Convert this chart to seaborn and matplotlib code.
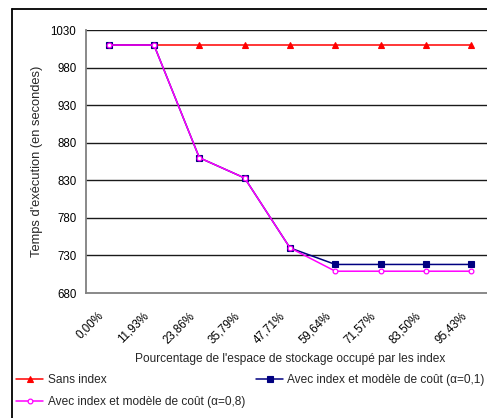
import numpy as np
import pandas as pd
import seaborn as sns
import matplotlib.pyplot as plt
import matplotlib.transforms as mtransforms
from matplotlib.lines import Line2D

# data
categories = ['0,00%', '11,93%', '23,86%', '35,79%', '47,71%',
              '59,64%', '71,57%', '83,50%', '95,43%']
sans_index = [1010, 1010, 1010, 1010, 1010, 1010, 1010, 1010, 1010]
cout_01 = [1010, 1010, 860, 833, 740, 718, 718, 718, 718]
cout_08 = [1010, 1010, 860, 833, 740, 709, 709, 709, 709]

yticks = [680, 730, 780, 830, 880, 930, 980, 1030]

FS = 8.6
TFS = 8.3

sns.set_style('white')
plt.rcParams['font.family'] = ['Liberation Sans', 'DejaVu Sans']
plt.rcParams['font.size'] = FS

fig = plt.figure(figsize=(4.87, 4.18), dpi=100)
ax = fig.add_axes([86/487, 1-293/418, 408/487, 263/418])

pos = np.arange(len(categories))
df = pd.DataFrame({'pos': pos, 'sans': sans_index, 'c01': cout_01, 'c08': cout_08})

sns.lineplot(data=df, x='pos', y='sans', ax=ax, color='#FF0000', marker='^',
             markersize=5, markeredgecolor='#FF0000', markeredgewidth=0.8,
             linewidth=1.1, label='Sans index', zorder=3)
sns.lineplot(data=df, x='pos', y='c01', ax=ax, color='#000080', marker='s',
             markersize=4.0, markeredgecolor='#000080', markeredgewidth=0.8,
             linewidth=1.1, label='Avec index et modèle de coût (α=0,1)', zorder=4)
sns.lineplot(data=df, x='pos', y='c08', ax=ax, color='#FF00FF', marker='o',
             markersize=3.4, markerfacecolor='white', markeredgecolor='#FF00FF',
             markeredgewidth=0.9, linewidth=1.1,
             label='Avec index et modèle de coût (α=0,8)', zorder=5)

ax.set_xlim(-0.5, len(categories) - 0.5)
ax.set_ylim(680, 1030)
ax.set_yticks(yticks)
ax.set_xticks(pos)
ax.set_xticks(np.arange(len(categories) + 1) - 0.5, minor=True)
ax.tick_params(axis='x', which='major', length=0, pad=12)
ax.tick_params(axis='x', which='minor', length=4, width=1, color='#808080', direction='out')
ax.tick_params(axis='y', length=4, width=1, color='#808080', direction='out', pad=3)
ax.tick_params(axis='both', labelsize=TFS, labelcolor='black')
ax.set_xticklabels(categories, rotation=45, ha='right', rotation_mode='anchor')
# nudge the rotated labels to the left (after tick_params, which resets transforms)
shift = mtransforms.ScaledTranslation(-11/100, 0, fig.dpi_scale_trans)
for lab in ax.get_xticklabels():
    lab.set_transform(lab.get_transform() + shift)

for y in yticks[1:]:
    ax.axhline(y, color='#1a1a1a', linewidth=1.0, zorder=1)

for s in ['top', 'right']:
    ax.spines[s].set_visible(False)
for s in ['left', 'bottom']:
    ax.spines[s].set_color('#808080')
    ax.spines[s].set_linewidth(1.3)

ax.set_xlabel("Pourcentage de l'espace de stockage occupé par les index", fontsize=FS)
ax.set_ylabel("Temps d'exécution (en secondes)", fontsize=9.3)
ax.xaxis.set_label_coords(0.5, (293 - 353) / 263)
ax.yaxis.set_label_coords((43 - 86) / 408, 0.5)

handles, labels = ax.get_legend_handles_labels()
ax.get_legend().remove()
order = [0, 2, 1]
fig.legend([handles[i] for i in order], [labels[i] for i in order],
           loc='upper left', bbox_to_anchor=(16/487, 1-374/418), ncol=2,
           frameon=False, fontsize=FS, handlelength=2.3, handletextpad=0.35,
           columnspacing=0.9, labelspacing=0.85, borderaxespad=0, borderpad=0)

# outer chart border (left and top edges)
fig.add_artist(Line2D([12/487, 12/487], [0, 1-9/418], color='black', linewidth=1.3,
                      transform=fig.transFigure))
fig.add_artist(Line2D([12/487, 1], [1-9/418, 1-9/418], color='black', linewidth=1.3,
                      transform=fig.transFigure))

fig.savefig('out.png', dpi=100)
